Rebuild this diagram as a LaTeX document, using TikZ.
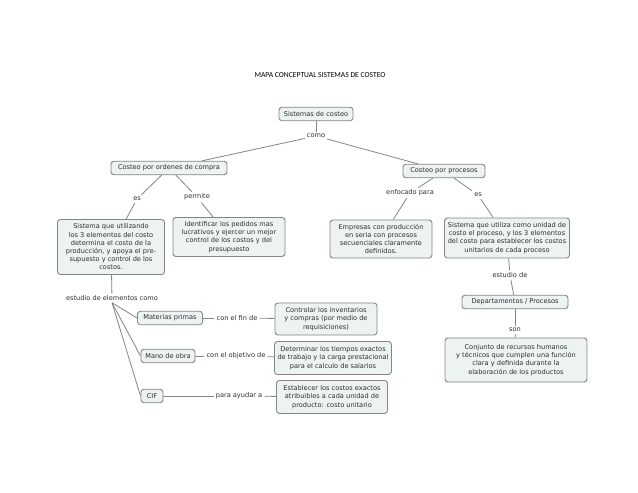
\documentclass[tikz,border=0pt]{standalone}
\usepackage{fontspec}
\setmainfont{DejaVu Sans}
\newfontfamily\titlefont{Carlito}
\definecolor{boxfill}{HTML}{EDF2F2}
\definecolor{boxline}{HTML}{858585}
\definecolor{txt}{HTML}{2E2E2E}
\begin{document}
\begin{tikzpicture}[x=1pt, y=-1pt]
  \tikzstyle{concept}=[draw=boxline, fill=boxfill, rounded corners=3pt, line width=0.9pt,
    align=center, text=txt, font=\fontsize{6.6}{8.2}\selectfont, inner xsep=3pt, inner ysep=2.5pt,
    minimum height=13.5pt]
  \tikzstyle{linkword}=[text=txt, font=\fontsize{6.6}{8}\selectfont, inner sep=2pt]
  \tikzstyle{link}=[draw=boxline, line width=0.8pt]

  \useasboundingbox[fill=white] (0,0) rectangle (638,493);

  \node[font=\titlefont\fontsize{7.6}{9}\selectfont] (title) at (320, 75) {MAPA CONCEPTUAL SISTEMAS DE COSTEO};

  % concepts
  \node[concept, minimum width=74pt]  (sist)  at (316, 114) {Sistemas de costeo};
  \node[concept, minimum width=116pt] (ord)   at (169, 168) {Costeo por ordenes de compra};
  \node[concept, minimum width=82pt]  (proc)  at (444, 171) {Costeo por procesos};
  \node[concept, minimum width=107pt, minimum height=55pt] (sisa) at (111, 247)
    {Sistema que utilizando\\los 3 elementos del costo\\determina el costo de la\\producción, y apoya el pre-\\supuesto y control de los\\costos.};
  \node[concept, minimum width=112pt, minimum height=39pt] (ident) at (229, 237)
    {Identificar los pedidos mas\\lucrativos y ejercer un mejor\\control de los costos y del\\presupuesto};
  \node[concept, minimum width=102pt, minimum height=38pt] (empr) at (381, 239)
    {Empresas con producción\\en seria con procesos\\secuenciales claramente\\definidos.};
  \node[concept, minimum width=125pt, minimum height=40pt] (sisb) at (507, 238)
    {Sistema que utiliza como unidad de\\costo el proceso, y los 3 elementos\\del costo para establecer los costos\\unitarios de cada proceso};
  \node[concept, minimum width=106pt] (dep) at (515, 302) {Departamentos / Procesos};
  \node[concept, minimum width=142pt, minimum height=44pt] (conj) at (516, 360)
    {Conjunto de recursos humanos\\y técnicos que cumplen una función\\clara y definida durante la\\elaboración de los productos};
  \node[concept, minimum width=65pt] (mp)  at (170, 318) {Materias primas};
  \node[concept, minimum width=54pt] (mo)  at (168, 356) {Mano de obra};
  \node[concept, minimum width=22pt] (cif) at (152, 396) {CIF};
  \node[concept, minimum width=102pt, minimum height=32pt] (ctrl) at (326, 319)
    {Controlar los inventarios\\y compras (por medio de\\requisiciones)};
  \node[concept, minimum width=113pt, minimum height=33pt] (det) at (333, 358)
    {Determinar los tiempos exactos\\de trabajo y la carga prestacional\\para el calculo de salarios};
  \node[concept, minimum width=111pt, minimum height=33pt] (est) at (332, 397)
    {Establecer los costos exactos\\atribuibles a cada unidad de\\producto: costo unitario};

  % linking words
  \node[linkword] (como)  at (316, 136) {como};
  \node[linkword] (es1)   at (137, 199) {es};
  \node[linkword] (perm)  at (197, 197) {permite};
  \node[linkword] (enfo)  at (410, 193) {enfocado para};
  \node[linkword] (es2)   at (478, 195) {es};
  \node[linkword] (estd)  at (510, 275) {estudio de};
  \node[linkword] (son)   at (515, 330) {son};
  \node[linkword] (elem)  at (112, 298) {estudio de elementos como};
  \node[linkword] (fin)   at (237, 318) {con el fin de};
  \node[linkword] (obj)   at (236, 356) {con el objetivo de};
  \node[linkword] (ayu)   at (239, 396) {para ayudar a};

  \path[link] (sist) -- (como);
  \path[link] (como) -- (ord);
  \path[link] (como) -- (proc);
  \path[link] (ord) -- (es1);
  \path[link] (es1) -- (sisa);
  \path[link] (ord) -- (perm);
  \path[link] (perm) -- (ident);
  \path[link] (proc) -- (enfo);
  \path[link] (enfo) -- (empr);
  \path[link] (proc) -- (es2);
  \path[link] (es2) -- (sisb);
  \path[link] (sisb) -- (estd);
  \path[link] (estd) -- (dep);
  \path[link] (dep) -- (son);
  \path[link] (son) -- (conj);
  \path[link] (sisa) -- (elem);
  \path[link] (elem.south) -- (mp.west);
  \path[link] (elem.south) -- (mo.west);
  \path[link] (elem.south) -- (cif.west);
  \path[link] (mp) -- (fin);
  \path[link] (fin) -- (ctrl);
  \path[link] (mo) -- (obj);
  \path[link] (obj) -- (det);
  \path[link] (cif) -- (ayu);
  \path[link] (ayu) -- (est);
\end{tikzpicture}
\end{document}
